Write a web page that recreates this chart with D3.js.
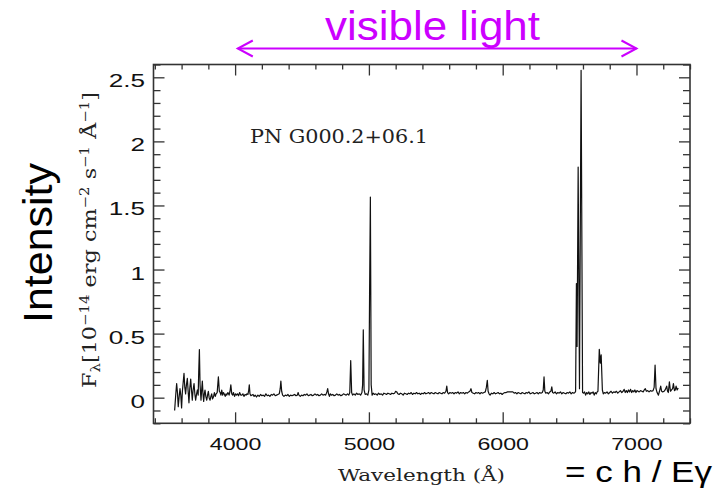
<!DOCTYPE html>
<html>
<head>
<meta charset="utf-8">
<script src="https://cdnjs.cloudflare.com/ajax/libs/d3/7.8.5/d3.min.js"></script>
<style>
body { margin: 0; background: #fff; }
</style>
</head>
<body>
<svg id="chart" width="721" height="489"></svg>
<script>
// spectrum: [wavelength in Angstrom, flux]
let spectrum = [
    [3548,-0.10],[3556,0.02],[3563,0.11],[3569,0.04],[3575,-0.07],[3581,0.00],[3588,0.07],[3594,0.02],
    [3600,-0.08],[3606,0.05],[3612,0.12],[3618,0.19],[3624,0.08],[3630,0.03],[3636,0.10],[3643,0.15],
    [3649,0.05],[3655,-0.04],[3661,0.07],[3668,0.145],[3674,0.06],[3680,-0.02],[3686,0.06],[3693,0.11],
    [3699,0.03],[3705,-0.02],[3712,0.03],[3718,0.06],[3724,0.02],[3728,0.20],[3733,0.376],[3738,0.10],
    [3745,-0.02],[3750,0.06],[3755,0.13],[3760,0.03],[3765,-0.03],[3770,0.03],[3775,0.06],[3781,0.01],
    [3788,-0.02],[3794,0.02],[3800,0.05],[3806,0.00],[3813,-0.02],[3819,0.01],[3825,0.03],[3831,-0.01],
    [3838,0.005],[3845,0.04],[3852,0.01],[3858,0.03],[3866,0.04],[3875,0.162],[3882,0.05],[3888,0.04],
    [3894,0.02],[3900,0.06],[3907,0.02],[3913,0.04],[3918,0.03],[3926,0.01],[3932,0.03],[3938,0.02],
    [3946,0.04],[3955,0.02],[3962,0.05],[3968,0.10],[3975,0.03],[3982,0.02],[3988,0.04],[3996,0.01],
    [4004,0.03],[4011,0.02],[4018,0.03],[4026,0.015],[4034,0.04],[4042,0.02],[4050,0.02],[4058,0.03],
    [4066,0.01],[4074,0.025],[4082,0.02],[4088,0.03],[4096,0.025],[4102,0.06],[4106,0.10],[4111,0.03],
    [4118,0.015],[4126,0.02],[4134,0.025],[4142,0.01],[4150,0.02],[4160,0.005],[4170,0.02],[4180,0.01],
    [4190,0.025],[4200,0.015],[4210,0.02],[4220,0.01],[4230,0.03],[4240,0.015],[4250,0.02],[4260,0.01],
    [4270,0.025],[4280,0.02],[4290,0.03],[4300,0.015],[4310,0.02],[4320,0.025],[4330,0.03],[4337,0.07],
    [4342,0.13],[4348,0.05],[4355,0.02],[4365,0.01],[4375,0.02],[4385,0.015],[4395,0.025],[4405,0.01],
    [4415,0.02],[4425,0.015],[4435,0.02],[4445,0.025],[4455,0.015],[4465,0.02],[4471,0.04],[4477,0.02],
    [4487,0.01],[4497,0.02],[4507,0.015],[4517,0.025],[4527,0.02],[4537,0.03],[4547,0.015],[4557,0.02],
    [4567,0.025],[4577,0.015],[4587,0.02],[4597,0.03],[4607,0.02],[4617,0.025],[4627,0.015],[4637,0.02],
    [4647,0.03],[4657,0.02],[4667,0.025],[4677,0.02],[4686,0.045],[4692,0.07],[4698,0.03],[4705,0.01],
    [4712,0.03],[4720,0.02],[4730,0.025],[4740,0.015],[4750,0.02],[4760,0.03],[4770,0.02],[4780,0.025],
    [4790,0.015],[4800,0.02],[4810,0.03],[4820,0.025],[4830,0.02],[4840,0.03],[4850,0.02],[4857,0.04],
    [4864,0.29],[4871,0.04],[4878,0.02],[4888,0.03],[4898,0.02],[4908,0.035],[4918,0.025],[4928,0.03],
    [4938,0.02],[4948,0.04],[4953,0.10],[4958,0.53],[4964,0.06],[4972,0.025],[4982,0.03],[4992,0.02],
    [5000,0.06],[5005,0.80],[5011,1.566],[5017,0.10],[5024,0.02],[5032,0.035],[5042,0.025],[5052,0.03],
    [5062,0.02],[5072,0.035],[5082,0.025],[5092,0.03],[5102,0.02],[5112,0.035],[5122,0.03],[5132,0.025],
    [5142,0.035],[5152,0.03],[5162,0.025],[5172,0.035],[5182,0.03],[5192,0.035],[5200,0.05],[5208,0.045],
    [5216,0.03],[5226,0.025],[5236,0.035],[5246,0.03],[5256,0.02],[5266,0.035],[5276,0.03],[5286,0.025],
    [5296,0.035],[5306,0.03],[5316,0.04],[5326,0.025],[5336,0.035],[5346,0.03],[5356,0.04],[5366,0.03],
    [5376,0.035],[5386,0.025],[5396,0.035],[5406,0.03],[5416,0.04],[5426,0.03],[5436,0.035],[5446,0.04],
    [5456,0.03],[5466,0.04],[5476,0.035],[5486,0.03],[5496,0.04],[5506,0.035],[5516,0.03],[5526,0.04],
    [5536,0.035],[5546,0.03],[5556,0.04],[5566,0.035],[5576,0.05],[5582,0.09],[5588,0.04],[5596,0.03],
    [5606,0.04],[5616,0.035],[5626,0.04],[5636,0.03],[5646,0.04],[5656,0.035],[5666,0.045],[5676,0.03],
    [5686,0.04],[5696,0.035],[5706,0.04],[5716,0.03],[5726,0.04],[5736,0.035],[5746,0.045],[5755,0.05],
    [5763,0.07],[5770,0.04],[5780,0.035],[5790,0.03],[5800,0.04],[5810,0.035],[5820,0.04],[5830,0.03],
    [5840,0.04],[5850,0.035],[5860,0.04],[5870,0.045],[5878,0.08],[5885,0.136],[5891,0.05],[5898,0.03],
    [5906,0.02],[5916,0.035],[5926,0.03],[5936,0.04],[5946,0.03],[5956,0.035],[5966,0.04],[5976,0.03],
    [5986,0.035],[5996,0.025],[6006,0.035],[6016,0.04],[6026,0.04],[6036,0.045],[6046,0.045],[6056,0.045],
    [6066,0.045],[6076,0.045],[6086,0.035],[6096,0.04],[6106,0.03],[6116,0.04],[6126,0.035],[6136,0.03],
    [6146,0.04],[6156,0.035],[6166,0.03],[6176,0.04],[6186,0.035],[6196,0.045],[6206,0.03],[6216,0.035],
    [6226,0.04],[6236,0.03],[6246,0.035],[6256,0.04],[6266,0.03],[6276,0.04],[6286,0.035],[6296,0.04],
    [6303,0.06],[6309,0.162],[6315,0.05],[6322,0.035],[6332,0.04],[6342,0.03],[6352,0.045],[6360,0.05],
    [6367,0.085],[6373,0.04],[6382,0.035],[6392,0.045],[6402,0.03],[6412,0.04],[6422,0.035],[6432,0.045],
    [6442,0.03],[6452,0.04],[6462,0.035],[6472,0.03],[6482,0.04],[6492,0.035],[6502,0.045],[6512,0.03],
    [6522,0.04],[6532,0.035],[6540,0.04],[6545,0.05],[6551,0.89],[6556,0.40],[6564,1.80],[6574,0.07],
    [6586,2.555],[6597,0.04],[6605,0.035],[6612,0.045],[6620,0.02],[6628,0.04],[6636,0.03],[6644,0.045],
    [6652,0.025],[6660,0.04],[6668,0.035],[6676,0.045],[6684,0.02],[6692,0.04],[6700,0.03],[6706,0.045],
    [6712,0.05],[6722,0.378],[6729,0.27],[6736,0.335],[6745,0.06],[6752,0.03],[6760,0.04],[6770,0.035],
    [6780,0.045],[6790,0.03],[6800,0.04],[6810,0.05],[6820,0.035],[6830,0.045],[6840,0.04],[6850,0.05],
    [6860,0.035],[6870,0.045],[6880,0.055],[6890,0.04],[6900,0.05],[6908,0.065],[6916,0.04],[6924,0.055],
    [6932,0.04],[6940,0.06],[6948,0.045],[6956,0.065],[6964,0.04],[6972,0.055],[6980,0.045],[6988,0.06],
    [6996,0.04],[7004,0.055],[7012,0.05],[7020,0.045],[7030,0.055],[7040,0.05],[7050,0.045],[7058,0.06],
    [7066,0.07],[7074,0.05],[7084,0.055],[7094,0.045],[7104,0.055],[7114,0.05],[7124,0.055],[7132,0.08],
    [7139,0.254],[7146,0.07],[7154,0.04],[7164,0.02],[7172,0.05],[7181,0.09],[7188,0.05],[7196,0.045],
    [7206,0.05],[7214,0.06],[7226,0.09],[7232,0.05],[7238,0.04],[7246,0.123],[7254,0.05],[7262,0.06],
    [7270,0.07],[7276,0.11],[7284,0.055],[7290,0.06],[7296,0.09],[7304,0.06],[7312,0.075]
]

let xMajor = [4000, 5000, 6000, 7000]
let xLabels = ['4000', '5000', '6000', '7000']
let xMinor = [3400,3600,3800,4200,4400,4600,4800,5200,5400,5600,5800,6200,6400,6600,6800,7200,7400]
let yMajor = [0, 0.5, 1, 1.5, 2, 2.5]
let yLabels = ['0', '0.5', '1', '1.5', '2', '2.5']
let yMinor = [-0.2,-0.1,0.1,0.2,0.3,0.4,0.6,0.7,0.8,0.9,1.1,1.2,1.3,1.4,1.6,1.7,1.8,1.9,2.1,2.2,2.3,2.4,2.6]
let visibleRange = [4020, 7000]

let svg = d3.select('#chart')

let plotLeft = 153.5, plotRight = 690, plotTop = 64.5, plotBottom = 423.3

let x = d3.scaleLinear()
    .domain([3390, 7400])
    .range([plotLeft, plotRight])

let y = d3.scaleLinear()
    .domain([-0.2, 2.6])
    .range([plotBottom, plotTop])

let axisColor = '#333'
let stretch = 1.45

let addAxis = (axis, tx, ty) => {
    let g = svg.append('g')
        .attr('transform', `translate(${tx},${ty})`)
        .call(axis)
    g.select('.domain').remove()
    g.selectAll('line').attr('stroke', axisColor).attr('stroke-width', 1.3)
    return g
}

// minor and major ticks on all four sides, pointing inward
addAxis(d3.axisBottom(x).tickValues(xMinor).tickSize(-5).tickFormat(''), 0, plotBottom)
addAxis(d3.axisTop(x).tickValues(xMinor).tickSize(-5).tickFormat(''), 0, plotTop)
addAxis(d3.axisTop(x).tickValues(xMajor).tickSize(-11).tickFormat(''), 0, plotTop)
addAxis(d3.axisLeft(y).tickValues(yMinor).tickSize(-7).tickFormat(''), plotLeft, 0)
addAxis(d3.axisRight(y).tickValues(yMinor).tickSize(-7).tickFormat(''), plotRight, 0)
addAxis(d3.axisRight(y).tickValues(yMajor).tickSize(-11).tickFormat(''), plotRight, 0)

let xg = addAxis(d3.axisBottom(x).tickValues(xMajor).tickSize(-11).tickFormat((d,i)=>xLabels[i]), 0, plotBottom)
xg.selectAll('text')
    .attr('y', 27)
    .attr('dy', 0)
    .attr('transform', `scale(${stretch},1)`)
    .style('font-family', '"Liberation Sans", Arial, sans-serif')
    .style('font-size', '16px')
    .attr('fill', '#111')

let yg = addAxis(d3.axisLeft(y).tickValues(yMajor).tickSize(-11).tickFormat((d,i)=>yLabels[i]), plotLeft, 0)
yg.selectAll('text')
    .attr('x', -8.5 / stretch)
    .attr('dy', 9.5)
    .attr('transform', `scale(${stretch},1)`)
    .style('font-family', '"Liberation Sans", Arial, sans-serif')
    .style('font-size', '18px')
    .attr('fill', '#111')

svg.append('rect')
    .attr('x', plotLeft)
    .attr('y', plotTop)
    .attr('width', plotRight - plotLeft)
    .attr('height', plotBottom - plotTop)
    .attr('fill', 'none')
    .attr('stroke', axisColor)
    .attr('stroke-width', 1.6)

let line = d3.line()
    .x(d=>x(d[0]))
    .y(d=>y(d[1]))

svg.append('path')
    .datum(spectrum)
    .attr('d', line)
    .attr('fill', 'none')
    .attr('stroke', '#111')
    .attr('stroke-width', 1.2)
    .attr('stroke-linejoin', 'round')

// object name
svg.append('text')
    .attr('x', 250)
    .attr('y', 143)
    .attr('textLength', 178)
    .attr('lengthAdjust', 'spacingAndGlyphs')
    .style('font-family', '"DejaVu Serif", serif')
    .style('font-size', '19px')
    .attr('fill', '#222')
    .text('PN G000.2+06.1')

// x axis title
svg.append('text')
    .attr('x', 338)
    .attr('y', 481)
    .attr('textLength', 167)
    .attr('lengthAdjust', 'spacingAndGlyphs')
    .style('font-family', '"DejaVu Serif", serif')
    .style('font-size', '17px')
    .attr('fill', '#222')
    .text('Wavelength (Å)')

// y axis title with sub/superscripts
let ylab = svg.append('text')
    .attr('transform', 'translate(96,388) rotate(-90)')
    .attr('textLength', 296)
    .attr('lengthAdjust', 'spacingAndGlyphs')
    .style('font-family', '"DejaVu Serif", serif')
    .style('font-size', '18px')
    .attr('fill', '#222')
let parts = [
    {t: 'F', s: 18, dy: 0},
    {t: 'λ', s: 12, dy: 4},
    {t: '[10', s: 18, dy: -4},
    {t: '−14', s: 12, dy: -7},
    {t: ' erg cm', s: 18, dy: 7},
    {t: '−2', s: 12, dy: -7},
    {t: ' s', s: 18, dy: 7},
    {t: '−1', s: 12, dy: -7},
    {t: ' Å', s: 18, dy: 7},
    {t: '−1', s: 12, dy: -7},
    {t: ']', s: 18, dy: 7}
]
parts.forEach(p=>{
    ylab.append('tspan')
        .attr('dy', p.dy)
        .style('font-size', p.s + 'px')
        .text(p.t)
})

svg.append('text')
    .attr('transform', 'translate(52,243) rotate(-90)')
    .attr('text-anchor', 'middle')
    .attr('textLength', 160)
    .attr('lengthAdjust', 'spacingAndGlyphs')
    .style('font-family', '"Liberation Sans", Arial, sans-serif')
    .style('font-size', '40px')
    .attr('fill', '#000')
    .text('Intensity')

// visible light arrow
let violet = '#cc00ff'
let ay = 48.5
svg.append('line')
    .attr('x1', x(visibleRange[0]))
    .attr('x2', x(visibleRange[1]))
    .attr('y1', ay)
    .attr('y2', ay)
    .attr('stroke', violet)
    .attr('stroke-width', 2)

svg.append('path')
    .attr('d', `M${x(visibleRange[0]) + 15},${ay - 8}L${x(visibleRange[0])},${ay}L${x(visibleRange[0]) + 15},${ay + 8}`)
    .attr('fill', 'none')
    .attr('stroke', violet)
    .attr('stroke-width', 2)

svg.append('path')
    .attr('d', `M${x(visibleRange[1]) - 15},${ay - 8}L${x(visibleRange[1])},${ay}L${x(visibleRange[1]) - 15},${ay + 8}`)
    .attr('fill', 'none')
    .attr('stroke', violet)
    .attr('stroke-width', 2)

svg.append('text')
    .attr('x', 325)
    .attr('y', 40)
    .attr('textLength', 215)
    .attr('lengthAdjust', 'spacingAndGlyphs')
    .style('font-family', '"Liberation Sans", Arial, sans-serif')
    .style('font-size', '41px')
    .attr('fill', violet)
    .text('visible light')

svg.append('text')
    .attr('x', 565)
    .attr('y', 482)
    .attr('textLength', 147)
    .attr('lengthAdjust', 'spacingAndGlyphs')
    .style('font-family', '"Liberation Sans", Arial, sans-serif')
    .style('font-size', '30px')
    .attr('fill', '#000')
    .text('= c h / Eγ')
</script>
</body>
</html>
